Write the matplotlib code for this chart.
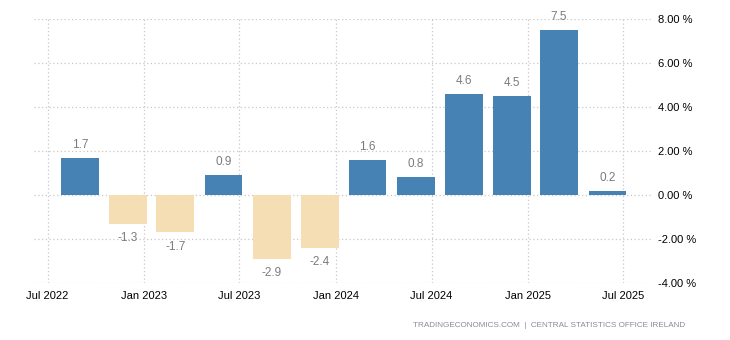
import datetime as dt
import matplotlib
matplotlib.use("Agg")
import matplotlib.pyplot as plt
import matplotlib.dates as mdates
from matplotlib.ticker import FuncFormatter

# quarterly growth, bars sit on the last month of each quarter
dates = [dt.date(2022, 9, 1), dt.date(2022, 12, 1), dt.date(2023, 3, 1), dt.date(2023, 6, 1),
         dt.date(2023, 9, 1), dt.date(2023, 12, 1), dt.date(2024, 3, 1), dt.date(2024, 6, 1),
         dt.date(2024, 9, 1), dt.date(2024, 12, 1), dt.date(2025, 3, 1), dt.date(2025, 6, 1)]
values = [1.7, -1.3, -1.7, 0.9, -2.9, -2.4, 1.6, 0.8, 4.6, 4.5, 7.5, 0.2]
tick_dates = [dt.date(2022, 7, 1), dt.date(2023, 1, 1), dt.date(2023, 7, 1), dt.date(2024, 1, 1),
              dt.date(2024, 7, 1), dt.date(2025, 1, 1), dt.date(2025, 7, 1)]
tick_labels = ["Jul 2022", "Jan 2023", "Jul 2023", "Jan 2024", "Jul 2024", "Jan 2025", "Jul 2025"]
yticks = [-4, -2, 0, 2, 4, 6, 8]

plt.rcParams['font.family'] = ['Liberation Sans', 'DejaVu Sans']

fig = plt.figure(figsize=(7.3, 3.4), dpi=100)
ax = fig.add_axes([0.0466, 0.1676, 0.8466, 0.7765])

colors = ["#4682B4" if v >= 0 else "#F5DEB3" for v in values]
ax.bar(dates, values, width=72, color=colors, zorder=3)

for d, v in zip(dates, values):
    if v >= 0:
        ax.annotate("%.1f" % v, (d, v), xytext=(0, 5), textcoords="offset points",
                    ha="center", va="bottom", fontsize=8.5, color="#7a7a84")
    else:
        ax.annotate("%.1f" % v, (d, v), xytext=(0, -6), textcoords="offset points",
                    ha="center", va="top", fontsize=8.5, color="#7a7a84")

ax.set_xlim(dt.date(2022, 6, 5), dt.date(2025, 8, 25))
ax.set_ylim(-4, 8)
ax.set_xticks(tick_dates)
ax.set_xticklabels(tick_labels)
ax.set_yticks(yticks)
ax.yaxis.set_major_formatter(FuncFormatter(lambda y, p: "%.2f %%" % y))
ax.yaxis.tick_right()
ax.tick_params(axis="both", length=0, labelsize=8, colors="#000000")
ax.tick_params(axis="x", pad=6)
ax.tick_params(axis="y", pad=4)

ax.grid(True, linestyle=(0, (1, 2)), color="#c8c8c8", linewidth=0.9, zorder=0)
for s in ax.spines.values():
    s.set_visible(False)

fig.text(0.938, 0.044, "TRADINGECONOMICS.COM  |  CENTRAL STATISTICS OFFICE IRELAND",
         ha="right", va="center", fontsize=5.9, color="#8a8a9a")

fig.savefig("out.png", dpi=100)
